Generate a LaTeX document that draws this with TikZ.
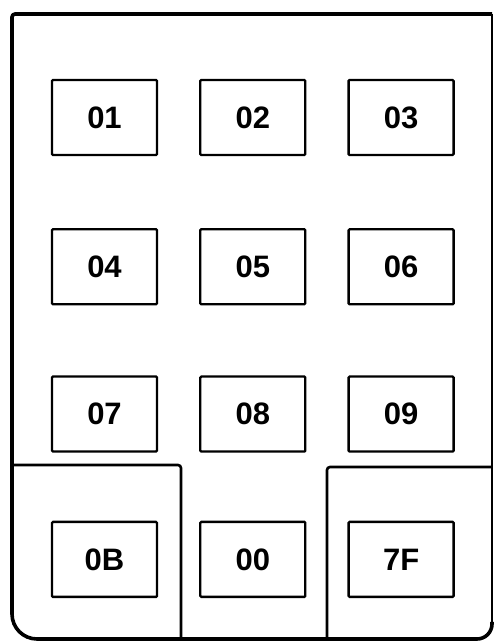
\documentclass[tikz,border=0pt]{standalone}
\usepackage{fontspec}
\setmainfont{Liberation Sans}
\usepackage{tikz}
\usetikzlibrary{positioning}

\begin{document}
\begin{tikzpicture}[
    x=1pt, y=1pt,
    node distance=70pt and 41pt,
    key/.style={draw, line width=2.3pt, rounded corners=1pt, minimum width=105pt,
                minimum height=75pt, inner sep=0pt,
                font=\bfseries\fontsize{31}{33}\selectfont},
    frame/.style={line width=3.6pt, line join=round},
    panel/.style={line width=2.6pt},
  ]
  \useasboundingbox (0,0) rectangle (494,644);
  % Outer case
  \draw[frame] (492,630) -- (15,630) arc[start angle=90, end angle=180, radius=3]
    -- (12,30) arc[start angle=180, end angle=270, radius=25]
    -- (477,5) arc[start angle=270, end angle=360, radius=15] -- (492,22);
  \draw[line width=1.8pt] (492,20) -- (492,630);
  % Bottom corner panels
  \coordinate (lpanel) at (12,179);
  \coordinate (rpanel) at (492,177);
  \draw[panel] (lpanel) -- (178,179) arc[start angle=90, end angle=0, radius=3] -- (181,5);
  \draw[panel] (327,5) -- (327,174) arc[start angle=180, end angle=90, radius=3] -- (rpanel);
  % Keys
  \node[key] (k01) at (104.5,526.5) {01};
  \node[key, right=of k01] (k02) {02};
  \node[key, right=of k02] (k03) {03};
  \node[key, below=72pt of k01] (k04) {04};
  \node[key, right=of k04] (k05) {05};
  \node[key, right=of k05] (k06) {06};
  \node[key, below=of k04] (k07) {07};
  \node[key, right=of k07] (k08) {08};
  \node[key, right=of k08] (k09) {09};
  \node[key, below=68pt of k07] (k0B) {0B};
  \node[key, right=of k0B] (k00) {00};
  \node[key, right=of k00] (k7F) {7F};
\end{tikzpicture}
\end{document}
